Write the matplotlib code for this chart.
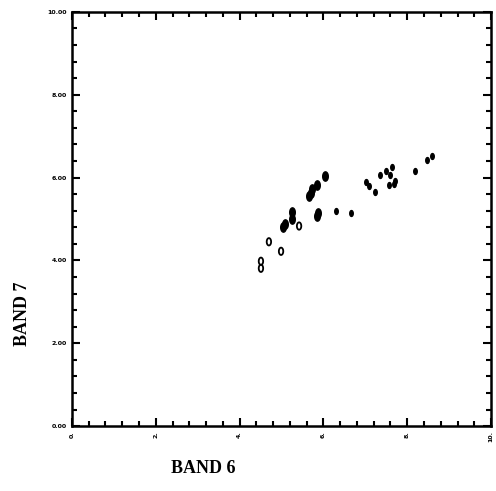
import numpy as np
import matplotlib
matplotlib.use("Agg")
import matplotlib.pyplot as plt
from matplotlib.path import Path
from matplotlib.ticker import MultipleLocator, FormatStrFormatter

# Open-circle samples
open_x = [4.51, 4.51, 4.70, 4.99, 5.42]
open_y = [3.98, 3.81, 4.45, 4.22, 4.83]

# Filled samples (dense blobs)
fill_x = [5.03, 5.08, 5.25, 5.25, 5.66, 5.70, 5.73, 5.85, 5.87, 5.85, 6.04]
fill_y = [4.81, 4.88, 5.17, 5.00, 5.55, 5.63, 5.72, 5.83, 5.15, 5.07, 6.04]

# Small symbol samples
sym_x = [6.30, 6.66, 7.02, 7.09, 7.23, 7.35, 7.49, 7.59, 7.64, 7.56, 7.68, 7.71, 8.19, 8.47, 8.59]
sym_y = [5.19, 5.15, 5.90, 5.80, 5.66, 6.07, 6.17, 6.07, 6.26, 5.83, 5.85, 5.92, 6.17, 6.43, 6.53]

x_ticks = [0, 2, 4, 6, 8, 10]
y_ticks = [0, 2, 4, 6, 8, 10]

t = np.linspace(0, 2 * np.pi, 40)
ellipse = Path(np.column_stack([0.6 * np.cos(t), np.sin(t)]), closed=True)

fig = plt.figure(figsize=(4.96, 4.91), dpi=100)
ax = fig.add_axes([0.145, 0.132, 0.845, 0.844])

ax.scatter(open_x, open_y, marker=ellipse, s=28, facecolors='none', edgecolors='black', linewidths=1.3)
ax.scatter(fill_x, fill_y, marker=ellipse, s=45, c='black')
ax.scatter(sym_x, sym_y, marker=ellipse, s=18, c='black')

ax.set_xlim(0, 10)
ax.set_ylim(0, 10)
ax.set_xticks(x_ticks)
ax.set_yticks(y_ticks)
ax.xaxis.set_minor_locator(MultipleLocator(0.4))
ax.yaxis.set_minor_locator(MultipleLocator(0.4))
ax.xaxis.set_major_formatter(FormatStrFormatter('%d.'))
ax.yaxis.set_major_formatter(FormatStrFormatter('%.2f'))
ax.tick_params(which='both', direction='in', top=True, right=True, width=1.5)
ax.tick_params(which='major', length=6, labelsize=4.5)
ax.tick_params(which='minor', length=3.5)
for lab in ax.get_xticklabels():
    lab.set_rotation(90)
    lab.set_fontweight('bold')
for lab in ax.get_yticklabels():
    lab.set_fontweight('bold')
for s in ax.spines.values():
    s.set_linewidth(1.8)

fig.text(0.045, 0.36, 'BAND 7', rotation=90, ha='center', va='center',
         fontsize=13, fontweight='bold', family='Liberation Serif')
fig.text(0.41, 0.045, 'BAND 6', ha='center', va='center',
         fontsize=13, fontweight='bold', family='Liberation Serif')

fig.savefig('out.png', dpi=100)
